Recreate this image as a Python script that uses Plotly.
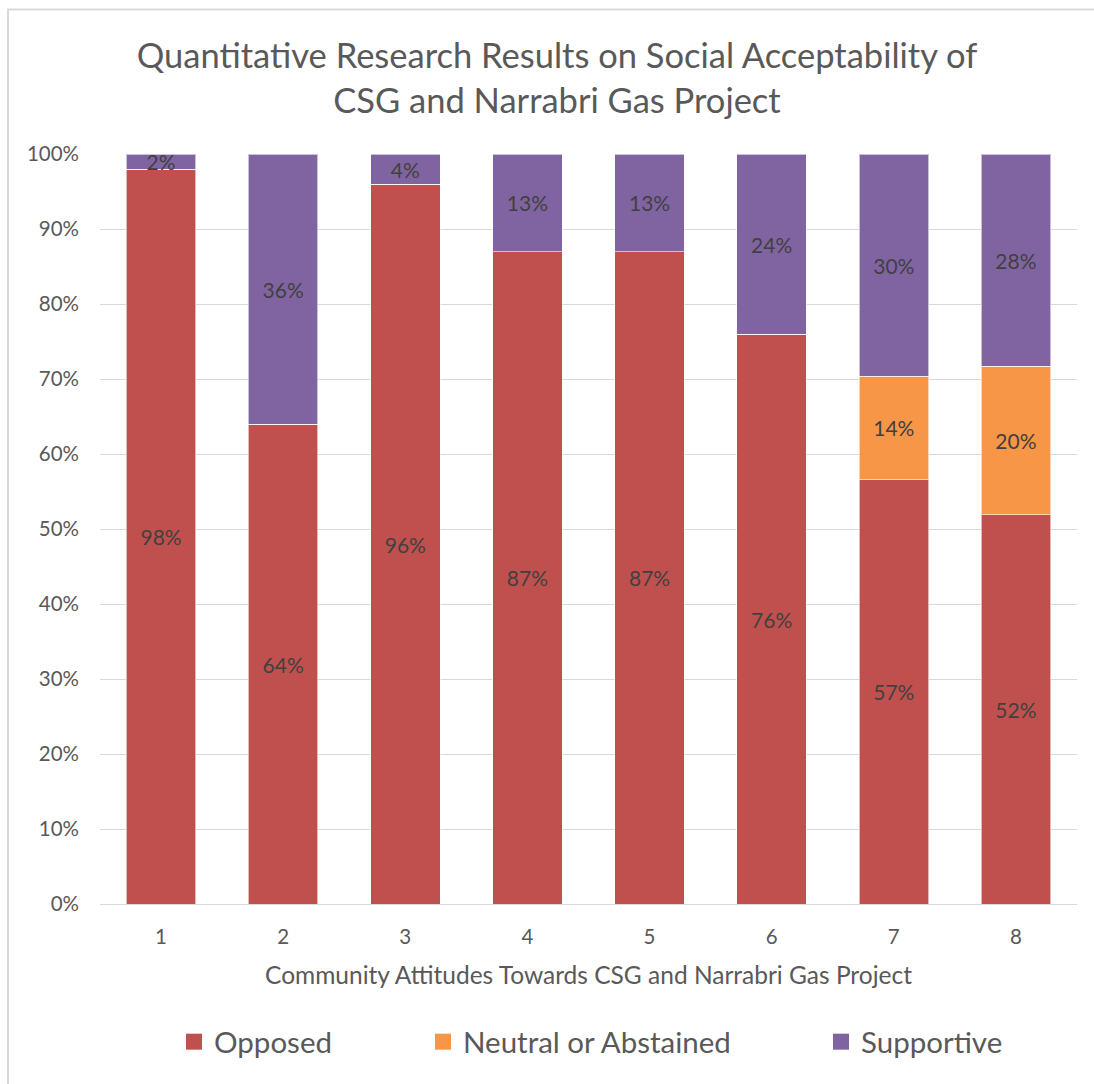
import plotly.graph_objects as go

categories = ["1", "2", "3", "4", "5", "6", "7", "8"]
opposed = [98, 64, 96, 87, 87, 76, 56.6, 51.9]
neutral = [0, 0, 0, 0, 0, 0, 13.8, 19.8]
supportive = [2, 36, 4, 13, 13, 24, 29.6, 28.3]
series_names = ["Opposed", "Neutral or Abstained", "Supportive"]
colors = ["#C0504D", "#F79646", "#8064A2"]
y_ticks = [0, 10, 20, 30, 40, 50, 60, 70, 80, 90, 100]

FONT = "Lato, Carlito, Calibri, sans-serif"

W, H = 1094, 1084
L, R, T, B = 100, 17, 154, 180
pw, ph = W - L - R, H - T - B

def px_x(p):
    return (p - L) / pw

def px_y(p):
    return (H - B - p) / ph

def labels(vals):
    return [f"{int(v + 0.5)}%" if v > 0 else "" for v in vals]

fig = go.Figure()
for name, vals, col in zip(series_names, [opposed, neutral, supportive], colors):
    fig.add_trace(go.Bar(
        name=name, x=categories, y=vals, showlegend=False,
        marker=dict(color=col, line=dict(color="rgba(255,255,255,0.6)", width=1)),
        text=labels(vals), textposition="inside", insidetextanchor="middle",
        textangle=0, constraintext="none",
        textfont=dict(family=FONT, size=21, color="#404040"),
    ))

legend_ids = ["legend", "legend2", "legend3"]
legend_left_px = [174, 423, 821]
for name, col, lid in zip(series_names, colors, legend_ids):
    fig.add_trace(go.Scatter(
        name=name, x=[None], y=[None], mode="markers",
        marker=dict(symbol="square", size=18, color=col),
        legend=lid, showlegend=True, hoverinfo="skip",
    ))

legend_common = dict(
    orientation="h", xanchor="left", yanchor="middle",
    y=px_y(1042), font=dict(family=FONT, size=29.5, color="#595959"),
    itemwidth=30, bgcolor="rgba(0,0,0,0)", borderwidth=0,
)

fig.update_layout(
    width=W, height=H,
    margin=dict(l=L, r=R, t=T, b=B),
    barmode="stack", bargap=0.43,
    paper_bgcolor="white", plot_bgcolor="white",
    font=dict(family=FONT, color="#595959"),
    title=dict(
        text="Quantitative Research Results on Social Acceptability of<br>CSG and Narrabri Gas Project",
        x=557 / W, xanchor="center", xref="container",
        y=1 - 68 / H, yanchor="middle", yref="container",
        font=dict(family=FONT, size=34.5, color="#595959"),
    ),
    xaxis=dict(
        title=dict(text="Community Attitudes Towards CSG and Narrabri Gas Project",
                   font=dict(family=FONT, size=24.5, color="#595959"), standoff=20),
        tickfont=dict(family=FONT, size=20.5, color="#595959"),
        showgrid=False, showline=True, linecolor="#D9D9D9", linewidth=1,
        ticks="", ticklabelstandoff=14,
    ),
    yaxis=dict(
        range=[0, 100], tickvals=y_ticks, ticktext=[f"{v}%" for v in y_ticks],
        tickfont=dict(family=FONT, size=20.5, color="#595959"),
        showgrid=True, gridcolor="#D9D9D9", gridwidth=1.3,
        zeroline=False, showline=False, ticks="", ticklabelstandoff=20,
    ),
    legend=dict(x=px_x(legend_left_px[0]), **legend_common),
    legend2=dict(x=px_x(legend_left_px[1]), **legend_common),
    legend3=dict(x=px_x(legend_left_px[2]), **legend_common),
    shapes=[dict(
        type="rect", xref="paper", yref="paper",
        x0=px_x(8), x1=px_x(1110), y0=px_y(1100), y1=px_y(9.5),
        line=dict(color="#D9D9D9", width=2), fillcolor="rgba(0,0,0,0)", layer="below",
    )],
)

fig.write_html("out.html")
